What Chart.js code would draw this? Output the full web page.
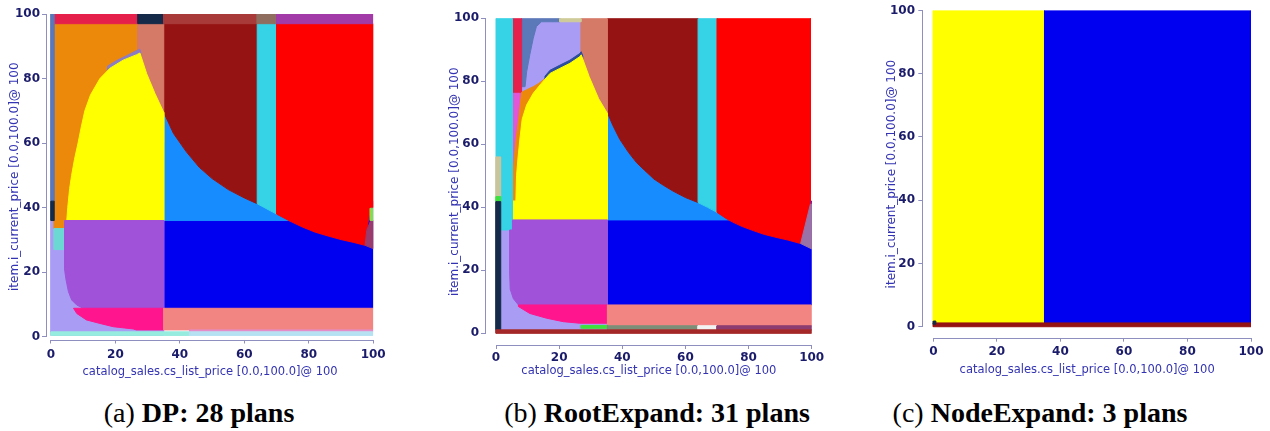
<!DOCTYPE html>
<html>
<head>
<meta charset="utf-8">
<script src="https://cdn.jsdelivr.net/npm/chart.js@4.4.1/dist/chart.umd.min.js"></script>
<style>
  html, body { margin: 0; padding: 0; background: #fff; }
  body { position: relative; width: 1270px; height: 431px; overflow: hidden; }
  canvas { position: absolute; top: 0; }
  .cap {
    position: absolute; white-space: nowrap; color: #000;
    font-family: "Liberation Serif", "Times New Roman", serif;
    font-size: 28px; line-height: 28px; transform: translateX(-50%);
  }
  .cap b { font-weight: bold; }
</style>
</head>
<body>
<canvas id="dp" width="390" height="385" style="left:0px"></canvas>
<canvas id="rootExpand" width="410" height="385" style="left:420px"></canvas>
<canvas id="nodeExpand" width="410" height="385" style="left:860px"></canvas>
<div class="cap" style="left:199px;top:399px">(a) <b>DP: 28 plans</b></div>
<div class="cap" style="left:657px;top:399px">(b) <b>RootExpand: 31 plans</b></div>
<div class="cap" style="left:1040px;top:399px">(c) <b>NodeExpand: 3 plans</b></div>
<script>
// ---- axes ----
const TICKS = [0, 20, 40, 60, 80, 100];
const X_TITLE = 'catalog_sales.cs_list_price [0.0,100.0]@ 100';
const Y_TITLE = 'item.i_current_price [0.0,100.0]@ 100';

// ---- plan colours ----
const planColors = {
  blue: '#0000f0', sky: '#168cff', maroon: '#961313', cyan: '#36d2e6', red: '#ff0000',
  yellow: '#ffff00', orange: '#ec890b', terracotta: '#d67a68', purple: '#a052d8',
  pink: '#ff168e', coral: '#f28482', lavender: '#a99cf4', crimson: '#e5214b',
  navy: '#142a48', brick: '#a83a3a', taupe: '#8f6e60', magenta: '#a23aa8',
  steel: '#5b78b8', turquoise: '#6cd8d4', mint: '#96ecde', ice: '#b6e2f2',
  orchidLine: '#e68cc8', plum: '#9a3b6b', lime: '#86dc4a', lilac: '#8b7cc4',
  khaki: '#cfcb98', green: '#3ee03e', orchid: '#e058d8', mauve: '#9a72a6',
  ridge: '#2c4c9c', olive: '#7d8e78', white: '#f2f2f2', plumLine: '#8c3c70',
  brown: '#a52828', ash: '#c8c49c'
};

// ---- DP: boundary curves (x, y) ----
const dpArch = [[4.9,36],[5.2,40],[5.8,46],[6.4,50],[7.3,55],[8.4,60],[9.4,65],[10.5,70],[12.3,75],
  [15.2,80],[18.3,83.2],[22.4,85.7],[26.6,87.4],[27.6,87.9],[29.7,81.5],[32.3,75.3],[35,69.5]];
const dpFront = [[35,69.5],[38,63],[42,57.3],[46,52.5],[50,49],[55,45.6],[60,43],[64,41.2],[67,39.6],
  [70,38],[74,35.9],[78,34],[82,32.4],[86,31.2],[90,30.1],[94,29.2],[97.5,28.3],[100,27.3]];
const dpRidgeTop = [[17.5,83.8],[20.4,85.6],[23.5,87.1],[26.6,88.7],[27.6,89.1],[27.9,87.8]];
const dpPurpleEdge = [[35,8.8],[10,8.8],[8,9.8],[6.4,11.4],[5.4,14],[4.6,18],[4.2,21]];
const dpPinkEdge = [[35,2.1],[26.5,2.1],[25.5,2.4],[19.3,3.1],[15.2,4.1],[11,5.2],[8,7.2]];

// ---- RootExpand: boundary curves (x, y) ----
const rxArch = [[5.2,36],[5.2,42],[6.3,42],[6.5,50],[7,56],[7.6,62],[8.3,68],[9.7,72.5],[11.8,76.2],
  [14.4,79.4],[17.1,82.5],[20.2,84.1],[23.4,85.7],[26.5,87.8],[27,88.4],[29.5,81.5],[32.5,74.5],[35.3,69.8]];
const rxFront = [[35.3,70],[37,66],[39.2,61.6],[42,57.4],[44.5,54.2],[47,51.8],[50,49],[53,47],[56,45.2],
  [60,43.1],[64,41.5],[67,40],[70,38.4],[73,36.4],[75,35.3],[78,33.9],[81.5,32.6],[85,31.4],
  [89,30.4],[92.5,29.6],[96.5,28.5]];
const rxOrangeEdge = [[5.2,42],[5.4,50],[5.8,56],[6.4,62],[7.2,68],[8.1,76.5],[9.7,77.3],[11.8,78.3],
  [13.5,79.3],[15.5,80.8],[17,82.2]];
const rxSteelEdge = [[20.2,98.9],[14.4,98.9],[12.8,97.4],[11.8,93.7],[10.7,88.4],[9.7,83],[9.2,78.3],[8.1,78.3]];
const rxRidgeTop = [[15.5,81.6],[17.1,83.5],[20.2,85.1],[23.4,86.7],[26.5,88.8],[27,89.4],[27.5,88]];
const rxPurpleEdge = [[35.3,9],[7.1,9],[5.5,11],[4.5,14],[4.3,20],[4.3,32.8],[5.2,32.8]];
const rxPinkEdge = [[35.3,3.2],[26.5,3.2],[21.3,3.7],[16,4.8],[10.7,6.3],[7.1,8.5]];

const between = (curve, a, b) => curve.filter(([x]) => x >= a && x <= b);
const rev = pts => pts.slice().reverse();

// ---- DP plan regions, listed bottom to top; [x0, y0, x1, y1] is a rectangle ----
const dpRegions = [
  ['lavender', [0, 0.4, 35, 36]],
  ['blue', [35, 8.8, 100, 42]],
  ['sky', [[35,36], ...between(dpFront, 35, 74), [74,36]]],
  ['maroon', [[35,97], [64,97], ...rev(between(dpFront, 35, 64))]],
  ['cyan', [[64,97], [70,97], ...rev(between(dpFront, 64, 70))]],
  ['red', [[70,97], [100,97], [100,40], [99.2,40], [98,33], ...rev(between(dpFront, 70, 97.5))]],
  ['plum', [[97.5,28.3], [98,33], [99.2,36], [100,36], [100,27.3]]],
  ['lime', [99.1, 36, 100, 39.8]],
  ['orange', [1, 33.5, 27, 97]],
  ['terracotta', [27, 60, 35, 97]],
  ['lilac', [...dpRidgeTop, [27.6,80], [17.5,80]]],
  ['yellow', [...dpArch, [35,36]]],
  ['turquoise', [1, 27, 4.65, 33.5]],
  ['purple', [[4.2,36], [35,36], ...dpPurpleEdge]],
  ['pink', [[7,8.8], [35,8.8], ...dpPinkEdge]],
  ['coral', [35, 2.1, 100, 8.8]],
  ['orchidLine', [43, 1.5, 100, 2.1]],
  ['mint', [0, 0.4, 43, 1.5]],
  ['ice', [43, 0.4, 100, 1.5]],
  ['crimson', [1, 97, 27, 100]],
  ['navy', [27, 97, 35, 100]],
  ['brick', [35, 97, 64, 100]],
  ['taupe', [64, 97, 70, 100]],
  ['magenta', [70, 97, 100, 100]],
  ['steel', [0, 42, 1, 100]],
  ['navy', [0, 36, 1, 42]]
];

// ---- RootExpand plan regions ----
const rxRegions = [
  ['lavender', [1.5, 1.1, 35.3, 36]],
  ['blue', [35.3, 9, 100, 42]],
  ['sky', [[35.3,36], ...between(rxFront, 35.3, 73), [74.5,36]]],
  ['maroon', [[35.3,100], [64,100], ...rev(between(rxFront, 35.3, 64))]],
  ['cyan', [[64,100], [70,100], ...rev(between(rxFront, 64, 70))]],
  ['red', [[70,100], [99.6,100], [99.6,41], ...rev(between(rxFront, 70, 96.5))]],
  ['mauve', [[99.6,41], [100,41], [100,26.8], [96.5,28.5]]],
  ['lavender', [8.1, 60, 27, 98.9]],
  ['terracotta', [27, 60, 35.3, 100]],
  ['steel', [[8.1,100], [20.2,100], ...rxSteelEdge]],
  ['khaki', [20.2, 98.9, 27, 100]],
  ['crimson', [5.2, 76.2, 8.1, 100]],
  ['orchid', [5.2, 50, 8.1, 76.2]],
  ['orange', [...rxOrangeEdge, [16,72], [8,42]]],
  ['ridge', [...rxRidgeTop, [27,80], [15.5,78]]],
  ['yellow', [...rxArch, [35.3,36]]],
  ['cyan', [[0,100], [5.2,100], [5.2,32.8], [1.5,32.8], [1.5,56], [0,56]]],
  ['ash', [0, 43.4, 1.5, 56]],
  ['green', [0, 41.8, 1.5, 43.4]],
  ['navy', [0, 1.1, 1.5, 41.8]],
  ['purple', [[5.2,36], [35.3,36], ...rxPurpleEdge]],
  ['pink', [[7.1,9], [35.3,9], ...rxPinkEdge]],
  ['coral', [35.3, 2.4, 100, 9]],
  ['green', [27, 1.6, 35.3, 2.5]],
  ['olive', [35.3, 1.1, 64, 2.4]],
  ['white', [64, 1.1, 70, 2.4]],
  ['plumLine', [70, 1.1, 100, 2.4]],
  ['brown', [0, 0, 100, 1.1]]
];

// ---- NodeExpand plan regions ----
const nxRegions = [
  ['yellow', [0, 1.2, 35, 100]],
  ['blue', [35, 1.2, 100, 100]],
  ['maroon', [0, 0, 100, 1.2]],
  ['navy', [0, 0.8, 0.8, 1.8]]
];

// ---- styling ----
const AXIS_COLOR = '#8f8fbf';
const TICK_COLOR = '#1b1b6b';
const TITLE_COLOR = '#3333b3';
const tickFont = { family: 'DejaVu Sans', size: 12, weight: 'bold' };
const xTitleFont = { family: 'DejaVu Sans', size: 11.5 };
const yTitleFont = { family: 'DejaVu Sans', size: 12 };

// axis lines drawn only over the 0..100 range of each scale
const rangeFrame = {
  id: 'rangeFrame',
  afterDraw(chart) {
    const { ctx, chartArea, scales: { x, y } } = chart;
    ctx.save();
    ctx.strokeStyle = AXIS_COLOR;
    ctx.lineWidth = 1;
    ctx.beginPath();
    const by = Math.round(chartArea.bottom) + 0.5;
    ctx.moveTo(x.getPixelForValue(0), by);
    ctx.lineTo(x.getPixelForValue(100), by);
    const lx = Math.round(chartArea.left) - 0.5;
    ctx.moveTo(lx, y.getPixelForValue(0));
    ctx.lineTo(lx, y.getPixelForValue(100));
    ctx.stroke();
    ctx.restore();
  }
};

function polygon(shape) {
  let pts = shape;
  if (typeof shape[0] === 'number') {
    const [x0, y0, x1, y1] = shape;
    pts = [[x0, y0], [x1, y0], [x1, y1], [x0, y1]];
  }
  return [...pts, pts[0]].map(([x, y]) => ({ x, y }));
}

function drawPlanDiagram(id, regions, g) {
  const datasets = regions.map(([plan, shape]) => ({
    data: polygon(shape),
    backgroundColor: planColors[plan],
    borderColor: planColors[plan],
    borderWidth: 1,
    fill: 'shape',
    pointRadius: 0,
    tension: 0
  })).reverse();

  const axisGrid = len => ({ drawOnChartArea: false, drawTicks: true, tickLength: len, color: AXIS_COLOR });

  new Chart(document.getElementById(id), {
    type: 'line',
    data: { datasets },
    plugins: [rangeFrame],
    options: {
      responsive: false,
      animation: false,
      events: [],
      layout: { padding: { left: 0, top: g.top, right: g.right, bottom: 0 } },
      plugins: { legend: { display: false }, tooltip: { enabled: false } },
      scales: {
        x: {
          type: 'linear', min: g.xMin, max: 100,
          afterBuildTicks: s => { s.ticks = TICKS.map(v => ({ value: v })); },
          afterFit: s => { s.height = g.xH; },
          grid: axisGrid(4), border: { display: false },
          ticks: { padding: g.xTickPad, color: TICK_COLOR, font: tickFont, maxRotation: 0, autoSkip: false },
          title: { display: true, text: X_TITLE, color: TITLE_COLOR, font: xTitleFont,
                   padding: { top: 0, bottom: g.xTitlePad } }
        },
        y: {
          type: 'linear', min: g.yMin, max: 100,
          afterBuildTicks: s => { s.ticks = TICKS.map(v => ({ value: v })); },
          afterFit: s => { s.width = g.yW; },
          grid: axisGrid(5), border: { display: false },
          ticks: { padding: g.yTickPad, color: TICK_COLOR, font: tickFont, autoSkip: false },
          title: { display: true, text: Y_TITLE, color: TITLE_COLOR, font: yTitleFont,
                   padding: { top: g.yTitlePad, bottom: 0 } }
        }
      }
    }
  });
}

drawPlanDiagram('dp', dpRegions, {
  top: 14, right: 16.5, yW: 47, xH: 45.5, xMin: -1.24, yMin: -0.87,
  xTickPad: 4.3, yTickPad: 2, xTitlePad: 6.1, yTitlePad: 8
});
drawPlanDiagram('rootExpand', rxRegions, {
  top: 18.3, right: 18.3, yW: 66, xH: 40, xMin: -3.17, yMin: -3.71,
  xTickPad: 1.8, yTickPad: 2, xTitlePad: 7.4, yTitlePad: 28
});
drawPlanDiagram('nodeExpand', nxRegions, {
  top: 10, right: 19, yW: 63.3, xH: 47.3, xMin: -3.15, yMin: -3.47,
  xTickPad: 3.1, yTickPad: 3.3, xTitlePad: 8.1, yTitlePad: 24.7
});
</script>
</body>
</html>
